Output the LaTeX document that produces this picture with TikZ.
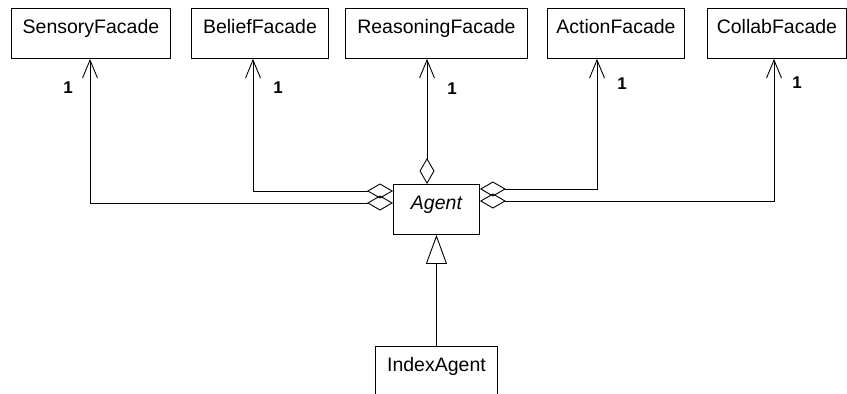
\documentclass[tikz,border=0pt]{standalone}
\usepackage{fontspec}
\setmainfont{Liberation Sans}
\usetikzlibrary{arrows.meta}
\begin{document}
\begin{tikzpicture}[x=1pt,y=-1pt,
  cls/.style={draw=black, line width=0.9pt, inner sep=0pt, text height=25pt, text depth=25pt, anchor=north west, font=\fontsize{19.5}{23}\selectfont},
  agg/.style={line width=0.9pt, {Diamond[open,length=26pt,width=15pt]}-{Straight Barb[length=18pt,width=15pt]}},
  gen/.style={line width=0.9pt, -{Triangle[open,length=29pt,width=21pt]}},
  mult/.style={font=\fontsize{17}{20}\selectfont\bfseries, inner sep=0pt}]
\useasboundingbox (0,0) rectangle (847,394);
\node[cls, minimum width=159pt] (sens) at (11,8) {SensoryFacade};
\node[cls, minimum width=137pt] (bel) at (191,8) {BeliefFacade};
\node[cls, minimum width=182pt] (reas) at (345,8) {ReasoningFacade};
\node[cls, minimum width=137pt] (act) at (547,8) {ActionFacade};
\node[cls, minimum width=139pt] (col) at (707,8) {CollabFacade};
\node[cls, minimum width=86pt, font=\fontsize{19.5}{23}\selectfont\itshape] (agent) at (393,184) {Agent};
\node[cls, minimum width=122pt] (idx) at (375,346) {IndexAgent};
% routing coordinates
\coordinate (xS) at (90,0);
\coordinate (xB) at (253,0);
\coordinate (xR) at (427,0);
\coordinate (xA) at (597,0);
\coordinate (xC) at (774,0);
\coordinate (yL1) at (0,191);
\coordinate (yL2) at (0,203);
\coordinate (yR1) at (0,189);
\coordinate (yR2) at (0,201);
\draw[agg] (agent.west |- yL2) -| (xS |- sens.south);
\draw[agg] (agent.west |- yL1) -| (xB |- bel.south);
\draw[agg] (xR |- agent.north) -- (xR |- reas.south);
\draw[agg] (agent.east |- yR1) -| (xA |- act.south);
\draw[agg] (agent.east |- yR2) -| (xC |- col.south);
\draw[gen] (idx.north) -- (agent.south);
\node[mult] (m1) at (68,88) {1};
\node[mult] (m2) at (278,88) {1};
\node[mult] (m3) at (452,89) {1};
\node[mult] (m4) at (622,84) {1};
\node[mult] (m5) at (797,83) {1};
\end{tikzpicture}
\end{document}
